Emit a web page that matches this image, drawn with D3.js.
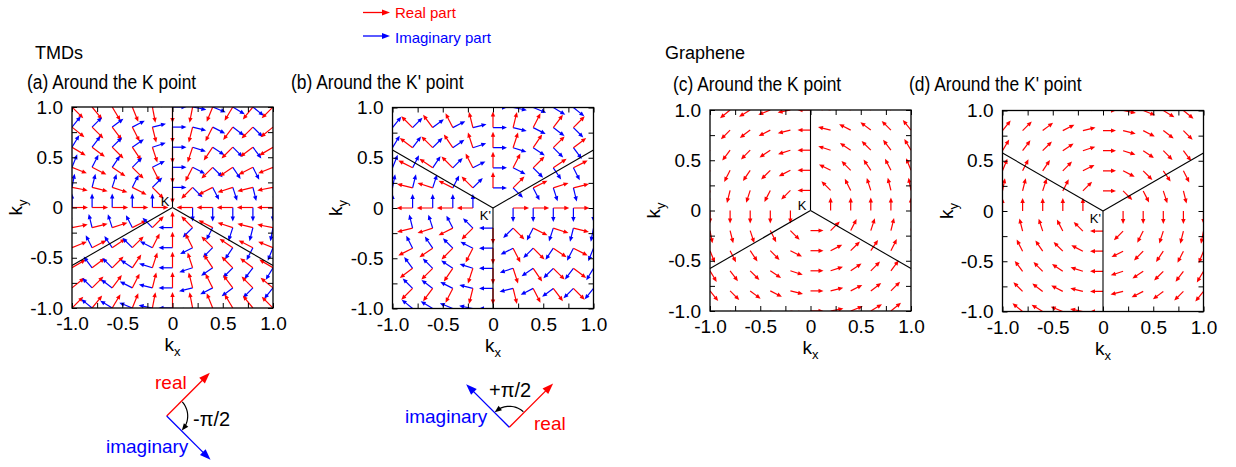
<!DOCTYPE html>
<html><head><meta charset="utf-8">
<script src="https://cdn.jsdelivr.net/npm/d3@7"></script>
<style>
body{margin:0;background:#fff}
svg{display:block}
text{font-family:"Liberation Sans",Arial,sans-serif}
</style>
</head><body>
<svg id="chart" width="1236" height="467"></svg>
<script>
// ---------------- data ----------------
const kxCols = [-1,-0.8,-0.6,-0.4,-0.2,0,0.2,0.4,0.6,0.8,1];
const kyRows = [1,0.8,0.6,0.4,0.2,0,-0.2,-0.4,-0.6,-0.8,-1];
const tickVals = [-1,-0.5,0,0.5,1];
const tickLabels = ["-1.0","-0.5","0","0.5","1.0"];
const minorTicks = [-0.75,-0.25,0.25,0.75];
// direction (deg, counter-clockwise from +kx) of the real-part arrow at each grid point
const tmdK_real = [
 [-45,-51,-59,-68,-79,-90,-101,-112,-121,-129,-135],
 [-39,-45,-53,-63,-76,-90,-104,-117,-127,-135,-141],
 [-31,-37,-45,-56,-72,-90,-108,-124,-135,-143,-149],
 [-22,-27,-34,-45,-63,-90,-117,-135,-146,-153,-158],
 [-11,-14,-18,-27,-45,-90,-135,-153,-162,-166,-169],
 [0,0,0,0,0,null,180,180,180,180,180],
 [11,14,18,27,45,90,135,153,162,166,169],
 [22,27,34,45,63,90,117,135,146,153,158],
 [31,37,45,56,72,90,108,124,135,143,149],
 [39,45,53,63,76,90,104,117,127,135,141],
 [45,51,59,68,79,90,101,112,121,129,135]
];
const tmdKp_real = [
 [135,129,121,112,101,90,79,68,59,51,45],
 [141,135,127,117,104,90,76,63,53,45,39],
 [149,143,135,124,108,90,72,56,45,37,31],
 [158,153,146,135,117,90,63,45,34,27,22],
 [169,166,162,153,135,90,45,27,18,14,11],
 [180,180,180,180,180,null,0,0,0,0,0],
 [-169,-166,-162,-153,-135,-90,-45,-27,-18,-14,-11],
 [-158,-153,-146,-135,-117,-90,-63,-45,-34,-27,-22],
 [-149,-143,-135,-124,-108,-90,-72,-56,-45,-37,-31],
 [-141,-135,-127,-117,-104,-90,-76,-63,-53,-45,-39],
 [-135,-129,-121,-112,-101,-90,-79,-68,-59,-51,-45]
];
// angle (deg) from the real-part arrow to the imaginary-part arrow, as drawn in the panels
const tmdK_imagRot = 90;
const tmdKp_imagRot = -90;
const graK_real = [
 [225,219,211,202,191,180,169,158,149,141,135],
 [231,225,217,207,194,180,166,153,143,135,129],
 [239,233,225,214,198,180,162,146,135,127,121],
 [248,243,236,225,207,180,153,135,124,117,112],
 [259,256,252,243,225,180,135,117,108,104,101],
 [270,270,270,270,270,null,90,90,90,90,90],
 [281,284,288,297,315,0,45,63,72,76,79],
 [292,297,304,315,333,0,27,45,56,63,68],
 [301,307,315,326,342,0,18,34,45,53,59],
 [309,315,323,333,346,0,14,27,37,45,51],
 [315,321,329,338,349,0,11,22,31,39,45]
];
const graKp_real = [
 [45,39,31,22,11,0,-11,-22,-31,-39,-45],
 [51,45,37,27,14,0,-14,-27,-37,-45,-51],
 [59,53,45,34,18,0,-18,-34,-45,-53,-59],
 [68,63,56,45,27,0,-27,-45,-56,-63,-68],
 [79,76,72,63,45,0,-45,-63,-72,-76,-79],
 [90,90,90,90,90,null,-90,-90,-90,-90,-90],
 [101,104,108,117,135,180,-135,-117,-108,-104,-101],
 [112,117,124,135,153,180,-153,-135,-124,-117,-112],
 [121,127,135,146,162,180,-162,-146,-135,-127,-121],
 [129,135,143,153,166,180,-166,-153,-143,-135,-129],
 [135,141,149,158,169,180,-169,-158,-149,-141,-135]
];
const edgesK = [90,210,330];
const edgesKp = [270,150,30];

// ---------------- drawing ----------------
const svg = d3.select("#chart");
const RED = "#ff0000", BLUE = "#0000ff";
const defs = svg.append("defs");

function head(g, x1, y1, ang, color, hl, hw){
  const dx = Math.cos(ang), dy = -Math.sin(ang);
  const bx = x1 - hl*dx, by = y1 - hl*dy;
  const px = -dy, py = dx;
  g.append("path")
   .attr("d", `M${x1},${y1}L${bx+hw*px},${by+hw*py}L${bx-hw*px},${by-hw*py}Z`)
   .attr("fill", color).attr("stroke","none");
}
function drawArrow(g, x0, y0, angDeg, len, color, sw, hl, hw){
  const a = angDeg*Math.PI/180;
  const dx = Math.cos(a), dy = -Math.sin(a);
  const x1 = x0 + len*dx, y1 = y0 + len*dy;
  g.append("line").attr("x1",x0).attr("y1",y0)
   .attr("x2",x1 - hl*0.7*dx).attr("y2",y1 - hl*0.7*dy)
   .attr("stroke",color).attr("stroke-width",sw);
  head(g, x1, y1, a, color, hl, hw);
}

function panel(id, o){
  const x = d3.scaleLinear().domain([-1,1]).range([o.left, o.left+o.size]);
  const y = d3.scaleLinear().domain([-1,1]).range([o.top+o.size, o.top]);
  defs.append("clipPath").attr("id","clip"+id)
    .append("rect").attr("x",o.left).attr("y",o.top).attr("width",o.size).attr("height",o.size);
  const g = svg.append("g");
  const field = g.append("g").attr("clip-path",`url(#clip${id})`);
  kyRows.forEach((ky,r)=>{
    kxCols.forEach((kx,c)=>{
      const ang = o.real[r][c];
      if (ang === null) return;
      const px = x(kx), py = y(ky);
      if (o.imagRot !== undefined){
        drawArrow(field, px, py, ang + o.imagRot, o.lenI, BLUE, 1.2, 5, 2.2);
      }
      drawArrow(field, px, py, ang, o.lenR, RED, 1.2, 5, 2.2);
    });
  });
  o.edges.forEach(e=>{
    const a = e*Math.PI/180, c = Math.cos(a), s = Math.sin(a);
    let t = Infinity;
    if (Math.abs(c)>1e-9) t = Math.min(t, 1/Math.abs(c));
    if (Math.abs(s)>1e-9) t = Math.min(t, 1/Math.abs(s));
    g.append("line").attr("x1",x(0)).attr("y1",y(0))
     .attr("x2",x(t*c)).attr("y2",y(t*s))
     .attr("stroke","#000").attr("stroke-width",1.1);
  });
  g.append("rect").attr("x",o.left).attr("y",o.top).attr("width",o.size).attr("height",o.size)
   .attr("fill","none").attr("stroke","#000").attr("stroke-width",1.3);
  const all = tickVals.concat(minorTicks);
  const fmt = v => { const i = tickVals.indexOf(v); return i>=0 ? tickLabels[i] : ""; };
  const tl = 5;
  const axB = g.append("g").attr("transform",`translate(0,${o.top+o.size})`)
    .call(d3.axisBottom(x).tickValues(all).tickFormat(fmt).tickSizeInner(-tl).tickSizeOuter(0).tickPadding(9));
  const axL = g.append("g").attr("transform",`translate(${o.left},0)`)
    .call(d3.axisLeft(y).tickValues(all).tickFormat(fmt).tickSizeInner(-tl).tickSizeOuter(0).tickPadding(9));
  const axT = g.append("g").attr("transform",`translate(0,${o.top})`)
    .call(d3.axisTop(x).tickValues(all).tickFormat("").tickSizeInner(-tl).tickSizeOuter(0));
  const axR = g.append("g").attr("transform",`translate(${o.left+o.size},0)`)
    .call(d3.axisRight(y).tickValues(all).tickFormat("").tickSizeInner(-tl).tickSizeOuter(0));
  [axB,axL,axT,axR].forEach(a=>{
    a.select(".domain").remove();
    a.selectAll("line").attr("stroke","#000").attr("stroke-width",1);
    a.selectAll("text").attr("font-size",19).attr("font-family","Liberation Sans, Arial, sans-serif").attr("fill","#000");
  });
  axB.selectAll("text").attr("dy","0.71em");
  g.append("text").attr("x",x(0)+o.lblDx).attr("y",y(0)+o.lblDy)
   .attr("text-anchor","end").attr("font-size",13).text(o.lbl);
  const kx = g.append("text").attr("x",x(0)).attr("y",o.top+o.size+43)
    .attr("text-anchor","middle").attr("font-size",19);
  kx.append("tspan").text("k");
  kx.append("tspan").attr("font-size",13).attr("dy",5).text("x");
  const kyT = g.append("text").attr("transform",`translate(${o.kyX},${y(0)}) rotate(-90)`)
    .attr("text-anchor","middle").attr("font-size",19);
  kyT.append("tspan").text("k");
  kyT.append("tspan").attr("font-size",13).attr("dy",5).text("y");
  svg.append("text").attr("transform",`translate(${o.tx},${o.ty}) scale(0.87,1)`)
    .attr("font-size",20).text(o.title);
}

panel("a",{left:72, top:107, size:201, real:tmdK_real, imagRot:tmdK_imagRot, lenR:16, lenI:14,
  edges:edgesK, lbl:"K", lblDx:-3, lblDy:-2, kyX:22, tx:27, ty:89, title:"(a) Around the K point"});
panel("b",{left:392.5, top:107.5, size:201, real:tmdKp_real, imagRot:tmdKp_imagRot, lenR:16, lenI:14,
  edges:edgesKp, lbl:"K'", lblDx:-2, lblDy:12, kyX:342, tx:291, ty:89, title:"(b) Around the K' point"});
panel("c",{left:710, top:110, size:201, real:graK_real, lenR:13,
  edges:edgesK, lbl:"K", lblDx:-4, lblDy:-1, kyX:660, tx:673, ty:91, title:"(c) Around the K point"});
panel("d",{left:1002.5, top:110.5, size:201, real:graKp_real, lenR:13,
  edges:edgesKp, lbl:"K'", lblDx:-2, lblDy:12, kyX:953, tx:909, ty:91, title:"(d) Around the K' point"});

svg.append("text").attr("x",35).attr("y",59).attr("font-size",18).text("TMDs");
svg.append("text").attr("x",665).attr("y",59).attr("font-size",18).text("Graphene");

drawArrow(svg, 363, 12.5, 0, 27, RED, 1.3, 8, 3);
svg.append("text").attr("x",395).attr("y",17.5).attr("font-size",15).attr("fill",RED).text("Real part");
drawArrow(svg, 363, 36, 0, 27, BLUE, 1.3, 8, 3);
svg.append("text").attr("x",395).attr("y",42.5).attr("font-size",15).attr("fill",BLUE).text("Imaginary part");

function arcArrow(cx, cy, r, a0, a1, color){
  const pts = d3.range(0,1.0001,0.05).map(t=>{
    const a = (a0 + (a1-a0)*t)*Math.PI/180;
    return [cx + r*Math.cos(a), cy + r*Math.sin(a)];
  });
  svg.append("path").attr("d", d3.line()(pts.slice(0,-2))).attr("fill","none")
    .attr("stroke",color).attr("stroke-width",1.2);
  const p1 = pts[pts.length-1], p0 = pts[pts.length-4];
  const ang = Math.atan2(-(p1[1]-p0[1]), p1[0]-p0[0]);
  head(svg, p1[0], p1[1], ang, color, 7, 2.8);
}
drawArrow(svg, 166.7, 416, 45, 61, RED, 1.3, 11, 4);
drawArrow(svg, 166.7, 416, -45, 62, BLUE, 1.3, 11, 4);
arcArrow(166.7, 416, 21, -42, 44, "#000");
svg.append("text").attr("x",155).attr("y",389).attr("font-size",19).attr("fill",RED).text("real");
svg.append("text").attr("x",106).attr("y",453).attr("font-size",19).attr("fill",BLUE).text("imaginary");
svg.append("text").attr("x",193).attr("y",426).attr("font-size",20).text("-π/2");
drawArrow(svg, 509.3, 427.3, 45, 62, RED, 1.3, 11, 4);
drawArrow(svg, 509.3, 427.3, 135, 61, BLUE, 1.3, 11, 4);
arcArrow(509.3, 427.3, 21, -48, -134, "#000");
svg.append("text").attr("x",489).attr("y",397).attr("font-size",20).text("+π/2");
svg.append("text").attr("x",405).attr("y",423).attr("font-size",19).attr("fill",BLUE).text("imaginary");
svg.append("text").attr("x",534).attr("y",430).attr("font-size",19).attr("fill",RED).text("real");
</script>
</body></html>
